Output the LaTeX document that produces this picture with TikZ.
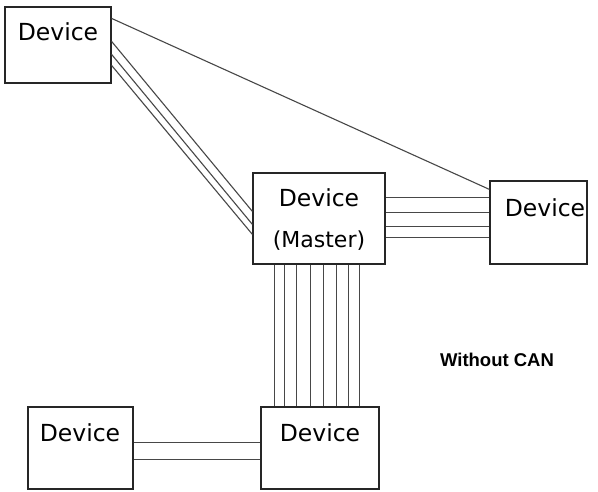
\documentclass[tikz,border=0pt]{standalone}
\usepackage{fontspec}
\setmainfont{DejaVu Sans}
\newfontfamily\capfont{Liberation Sans}
\usetikzlibrary{calc}
\tikzset{
  devbox/.style={draw=black!85, line width=1.2pt, rectangle, inner sep=0pt, fill=white},
  devtext/.style={inner sep=0pt, font=\fontsize{23.5}{25}\selectfont, text=black},
  wire/.style={draw=black!72, line width=1.1pt}
}
\begin{document}
\begin{tikzpicture}[x=1pt,y=-1pt]
\useasboundingbox[fill=white] (0,0) rectangle (598,491);
% boxes
\node[devbox, minimum width=106pt, minimum height=76pt] (tl) at (58,45) {};
\node[devbox, minimum width=132pt, minimum height=91pt] (m) at (319,218.5) {};
\node[devbox, minimum width=97pt, minimum height=83pt] (r) at (538.5,222.5) {};
\node[devbox, minimum width=118pt, minimum height=82pt] (br) at (320,448) {};
\node[devbox, minimum width=105pt, minimum height=82pt] (bl) at (80.5,448) {};
% texts
\node[devtext] (tlt) at (58,32) {Device};
\node[devtext] (mt) at (319,198) {Device};
\node[devtext, font=\fontsize{22}{24}\selectfont] (mt2) at (319,241) {(Master)};
\node[devtext] (rt) at (545,208) {Device};
\node[devtext] (brt) at (320,433) {Device};
\node[devtext] (blt) at (80,433) {Device};
\node[inner sep=0pt, font=\capfont\bfseries\fontsize{18.5}{20}\selectfont] (cap) at (497,359.5) {Without CAN};
% wires
\draw[wire] ($(tl.north east)+(0,12)$) -- ($(r.north west)+(0,9)$);
\draw[wire] ($(tl.north east)+(0,35)$) -- ($(m.north west)+(0,39)$);
\draw[wire] ($(tl.north east)+(0,48)$) -- ($(m.north west)+(0,52)$);
\draw[wire] ($(tl.north east)+(0,59)$) -- ($(m.north west)+(0,62)$);
\foreach \dy in {25,40,54,65}{
  \coordinate (h\dy) at ($(m.north east)+(0,\dy)$);
  \draw[wire] (h\dy) -- (h\dy -| r.west);
}
\foreach \dx in {22,32,44,58,71,84,96,107}{
  \coordinate (v\dx) at ($(m.south west)+(\dx,0)$);
  \draw[wire] (v\dx) -- (v\dx |- br.north);
}
\foreach \dy in {36,53}{
  \coordinate (b\dy) at ($(bl.north east)+(0,\dy)$);
  \draw[wire] (b\dy) -- (b\dy -| br.west);
}
\end{tikzpicture}
\end{document}
